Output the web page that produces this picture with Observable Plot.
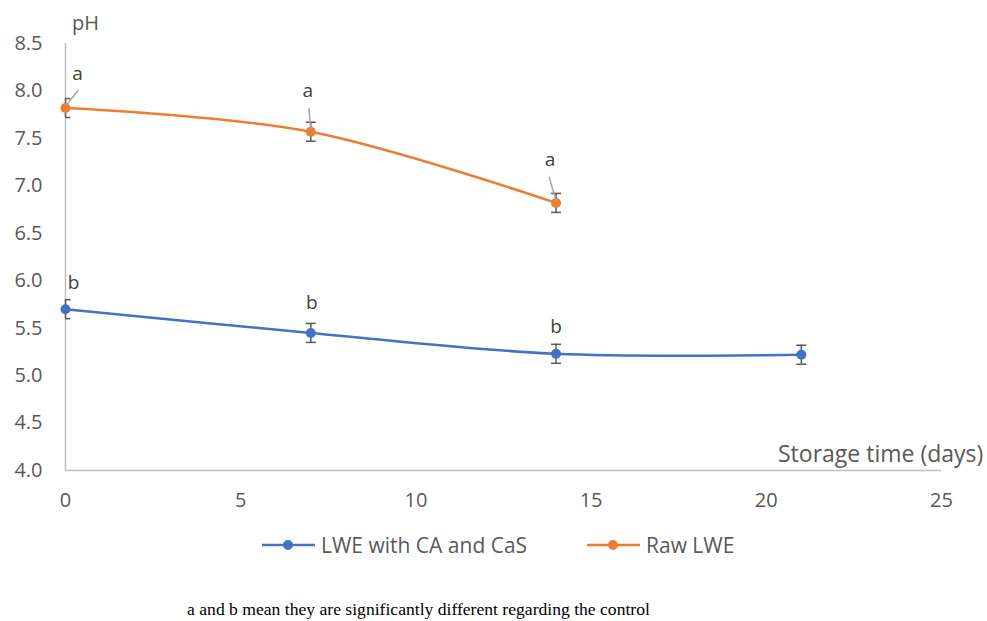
<!DOCTYPE html>
<html>
<head>
<meta charset="utf-8">
<script src="https://cdn.jsdelivr.net/npm/d3@7"></script>
<script src="https://cdn.jsdelivr.net/npm/@observablehq/plot@0.6"></script>
<style>
  html, body { margin: 0; padding: 0; background: #fff; }
  #wrap { position: relative; width: 987px; height: 621px; overflow: hidden; }
  #chart { position: absolute; left: 0; top: 0; }
  #legend { position: absolute; left: 0; top: 531px; width: 987px; height: 28px; font-family: "Open Sans", sans-serif; font-size: 21px; color: #595959; }
  .item { position: absolute; top: 0; display: flex; align-items: center; height: 28px; white-space: nowrap; }
  .item svg { margin-right: 6px; }
  #caption { position: absolute; left: 0; top: 599px; width: 837px; text-align: center; font-family: "Liberation Serif", "Times New Roman", serif; font-size: 17.6px; line-height: 20px; color: #000; white-space: nowrap; }
</style>
</head>
<body>
<div id="wrap">
  <div id="chart"></div>
  <div id="legend"></div>
  <div id="caption"></div>
</div>
<script>
// ---- data ----
const series = ["LWE with CA and CaS", "Raw LWE"];
const daysCA = [0, 7, 14, 21];
const phCA = [5.70, 5.45, 5.23, 5.22];
const errCA = [0.1, 0.1, 0.1, 0.1];
const lettersCA = ["b", "b", "b", ""];
const daysRaw = [0, 7, 14];
const phRaw = [7.82, 7.57, 6.82];
const errRaw = [0.1, 0.1, 0.1];
const lettersRaw = ["a", "a", "a"];
const xTicks = [0, 5, 10, 15, 20, 25];
const yTicks = [4.0, 4.5, 5.0, 5.5, 6.0, 6.5, 7.0, 7.5, 8.0, 8.5];
const xLabel = "Storage time (days)";
const yLabel = "pH";
const caption = "a and b mean they are significantly different regarding the control";

// ---- styles ----
const colors = ["#4472C4", "#ED7D31"];
const rowsCA = daysCA.map((d, i) => ({day: d, ph: phCA[i], err: errCA[i], letter: lettersCA[i]}));
const rowsRaw = daysRaw.map((d, i) => ({day: d, ph: phRaw[i], err: errRaw[i], letter: lettersRaw[i]}));

const capSymbol = {draw(ctx, size) { const w = Math.sqrt(size / Math.PI); ctx.moveTo(-w, 0); ctx.lineTo(w, 0); }};
const seg = (x1, y1, x2, y2) => ({draw(ctx) { ctx.moveTo(x1, y1); ctx.lineTo(x2, y2); }});

// label offsets (px) and leader segments, per point
const offRaw = [[12, -34], [-3, -41], [-6, -43]];
const leadRaw = [[1, -3, 13, -18], [0, -2, -2, -24], [0, -2, -7, -26]];
const offCA = [[8, -26], [1, -30], [0, -27], [0, 0]];

function errMarks(rows) {
  return [
    Plot.ruleX(rows, {x: "day", y1: d => d.ph - d.err, y2: d => d.ph + d.err, stroke: "#595959", strokeWidth: 1.5}),
    Plot.dot(rows, {x: "day", y: d => d.ph - d.err, symbol: capSymbol, r: 5, stroke: "#595959", strokeWidth: 1.5, fill: "none", clip: true}),
    Plot.dot(rows, {x: "day", y: d => d.ph + d.err, symbol: capSymbol, r: 5, stroke: "#595959", strokeWidth: 1.5, fill: "none", clip: true})
  ];
}

const labelMarks = [];
rowsRaw.forEach((r, i) => {
  const [a, b, c, d] = leadRaw[i];
  labelMarks.push(Plot.dot([r], {x: "day", y: "ph", symbol: seg(a, b, c, d), stroke: "#a6a6a6", strokeWidth: 1.5, fill: "none"}));
  labelMarks.push(Plot.text([r], {x: "day", y: "ph", text: "letter", dx: offRaw[i][0], dy: offRaw[i][1], fill: "#404040", fontSize: 19}));
});
rowsCA.forEach((r, i) => {
  if (!r.letter) return;
  labelMarks.push(Plot.text([r], {x: "day", y: "ph", text: "letter", dx: offCA[i][0], dy: offCA[i][1], fill: "#404040", fontSize: 19}));
});

const chart = Plot.plot({
  width: 987,
  height: 520,
  marginLeft: 65,
  marginRight: 46,
  marginTop: 43,
  marginBottom: 50,
  style: {fontFamily: "Open Sans, sans-serif", fontSize: "20px", color: "#595959", background: "#fff"},
  x: {domain: [0, 25]},
  y: {domain: [4, 8.5]},
  marks: [
    Plot.axisX({ticks: xTicks, tickSize: 0, tickPadding: 22, label: null, fontSize: 20, fill: "#595959"}),
    Plot.axisY({ticks: yTicks, tickSize: 0, tickPadding: 23, label: null, fontSize: 20, fill: "#595959", tickFormat: d3.format(".1f")}),
    Plot.ruleY([4], {stroke: "#bfbfbf", strokeWidth: 1.5}),
    Plot.ruleX([0], {stroke: "#bfbfbf", strokeWidth: 1.5}),
    Plot.text([yLabel], {frameAnchor: "top-left", dx: 20, dy: -28, fill: "#595959", fontSize: 20, textAnchor: "middle"}),
    Plot.text([xLabel], {frameAnchor: "bottom-right", dx: 41.8, dy: -9, fill: "#595959", fontSize: 23, textAnchor: "end", letterSpacing: "0.8px"}),
    Plot.line(rowsRaw, {x: "day", y: "ph", stroke: colors[1], strokeWidth: 2.5, curve: "cardinal"}),
    Plot.line(rowsCA, {x: "day", y: "ph", stroke: colors[0], strokeWidth: 2.5, curve: "cardinal"}),
    ...errMarks(rowsRaw),
    ...errMarks(rowsCA),
    Plot.dot(rowsRaw, {x: "day", y: "ph", r: 5, fill: colors[1]}),
    Plot.dot(rowsCA, {x: "day", y: "ph", r: 5, fill: colors[0]}),
    ...labelMarks
  ]
});
document.getElementById("chart").appendChild(chart);

// legend
const legend = document.getElementById("legend");
const legendX = [262, 587];
series.forEach((name, i) => {
  const item = document.createElement("div");
  item.className = "item";
  item.style.left = legendX[i] + "px";
  item.innerHTML = `<svg width="53" height="12"><line x1="0" y1="6" x2="53" y2="6" stroke="${colors[i]}" stroke-width="2.5"/><circle cx="26" cy="6" r="5" fill="${colors[i]}"/></svg><span></span>`;
  item.querySelector("span").textContent = name;
  legend.appendChild(item);
});
document.getElementById("caption").textContent = caption;
</script>
</body>
</html>
